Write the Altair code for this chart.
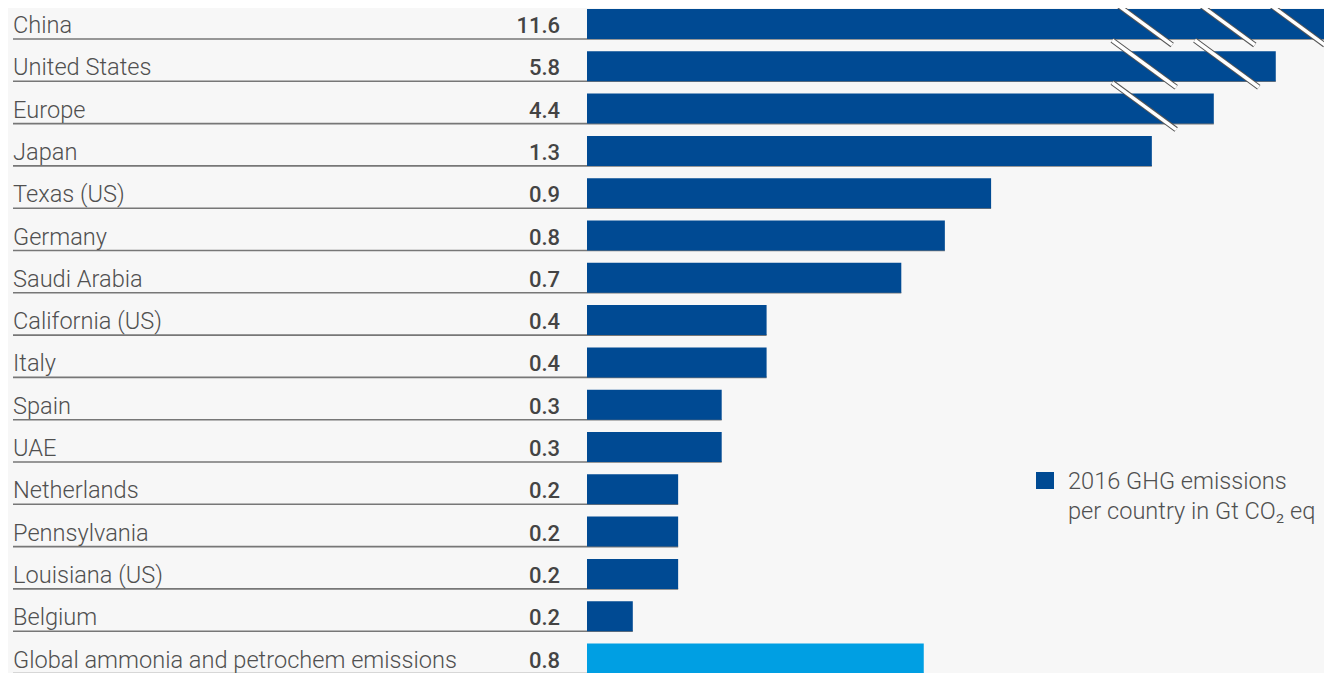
import altair as alt
import pandas as pd

countries = ["China", "United States", "Europe", "Japan", "Texas (US)", "Germany",
             "Saudi Arabia", "California (US)", "Italy", "Spain", "UAE", "Netherlands",
             "Pennsylvania", "Louisiana (US)", "Belgium",
             "Global ammonia and petrochem emissions"]
labels = ["11.6", "5.8", "4.4", "1.3", "0.9", "0.8", "0.7", "0.4", "0.4", "0.3", "0.3",
          "0.2", "0.2", "0.2", "0.2", "0.8"]
# drawn bar lengths (broken axis for the first three rows)
bar_length = [1.66, 1.534, 1.396, 1.258, 0.90, 0.797, 0.70, 0.40, 0.40, 0.30, 0.30,
              0.203, 0.203, 0.203, 0.102, 0.75]
series = ["country"] * 15 + ["global"]
break_rows = [0, 0, 0, 1, 1, 2]
break_pos = [1.232, 1.416, 1.572, 1.241, 1.425, 1.241]
legend_lines = ["2016 GHG emissions", "per country in Gt CO\u2082 eq"]

W, H = 1316, 665
X0, PX_PER_UNIT = 579, 449
x_max = (W - X0) / PX_PER_UNIT
Y_FIRST, Y_LAST = 16, 650.5
xs = alt.Scale(domain=[0, x_max], range=[X0, W], nice=False, zero=False)
ys = alt.Scale(domain=[0, 15], range=[Y_FIRST, Y_LAST], nice=False, zero=False)
ROW = (Y_LAST - Y_FIRST) / 15
HALF = 15 / ROW

df = pd.DataFrame({"idx": list(range(len(countries))), "country": countries,
                   "label": labels, "len": bar_length, "series": series})
bdf = pd.DataFrame({"row": break_rows, "pos": break_pos})
ldf = pd.DataFrame({"k": [0]})

base = alt.Chart(df)
FONT = "Roboto"

bars = base.transform_calculate(
    top=f"datum.idx - {HALF}", bot=f"datum.idx + {HALF}", zero="0"
).mark_rect().encode(
    x=alt.X("zero:Q", scale=xs, axis=None),
    x2="len:Q",
    y=alt.Y("top:Q", scale=ys, axis=None),
    y2="bot:Q",
    color=alt.Color("series:N", scale=alt.Scale(domain=["country", "global"],
                                                range=["#004a93", "#009fe3"]), legend=None),
)

underline = base.transform_calculate(
    bot=f"datum.idx + {HALF}"
).mark_rule(color="#777777", strokeWidth=1.6).encode(
    x=alt.X("len:Q", scale=xs, axis=None),
    x2=alt.value(5),
    y=alt.Y("bot:Q", scale=ys, axis=None),
)

names = base.mark_text(align="left", baseline="alphabetic", dy=9, font=FONT,
                       fontWeight=300, fontSize=23.6, color="#505050").encode(
    x=alt.value(5), y=alt.Y("idx:Q", scale=ys, axis=None), text="country:N")

values = base.mark_text(align="right", baseline="alphabetic", dy=9, font=FONT,
                        fontWeight=500, fontSize=22, color="#444444").encode(
    x=alt.value(552), y=alt.Y("idx:Q", scale=ys, axis=None), text="label:N")

dx = 32 / PX_PER_UNIT
dyr = 23.5 / ROW
brk = alt.Chart(bdf).transform_calculate(
    xa=f"datum.pos - {dx}", xb=f"datum.pos + {dx}",
    ya=f"datum.row - 0.06 - {dyr}", yb=f"datum.row - 0.06 + {dyr}")
brk_enc = dict(x=alt.X("xa:Q", scale=xs, axis=None), x2="xb:Q",
               y=alt.Y("ya:Q", scale=ys, axis=None), y2="yb:Q")
brk_dark = brk.mark_rule(color="#555555", strokeWidth=5.5).encode(**brk_enc)
brk_light = brk.mark_rule(color="#ffffff", strokeWidth=3.5).encode(**brk_enc)

leg_sq = alt.Chart(ldf).mark_rect(color="#004a93").encode(
    x=alt.value(1028), x2=alt.value(1046), y=alt.value(464), y2=alt.value(481))
leg_txt = alt.Chart(ldf).mark_text(align="left", baseline="alphabetic", font=FONT,
                                   fontWeight=300, fontSize=23.6, color="#505050",
                                   text=legend_lines, lineHeight=30).encode(
    x=alt.value(1060), y=alt.value(481))

chart = alt.layer(underline, bars, names, values, brk_dark, brk_light, leg_sq, leg_txt).properties(
    width=W, height=H, padding=0, autosize=alt.AutoSizeParams(type="none"),
    background="#f7f7f7",
).configure_view(stroke=None)

chart.save("out.html", embed_options={"renderer": "svg", "actions": False})
